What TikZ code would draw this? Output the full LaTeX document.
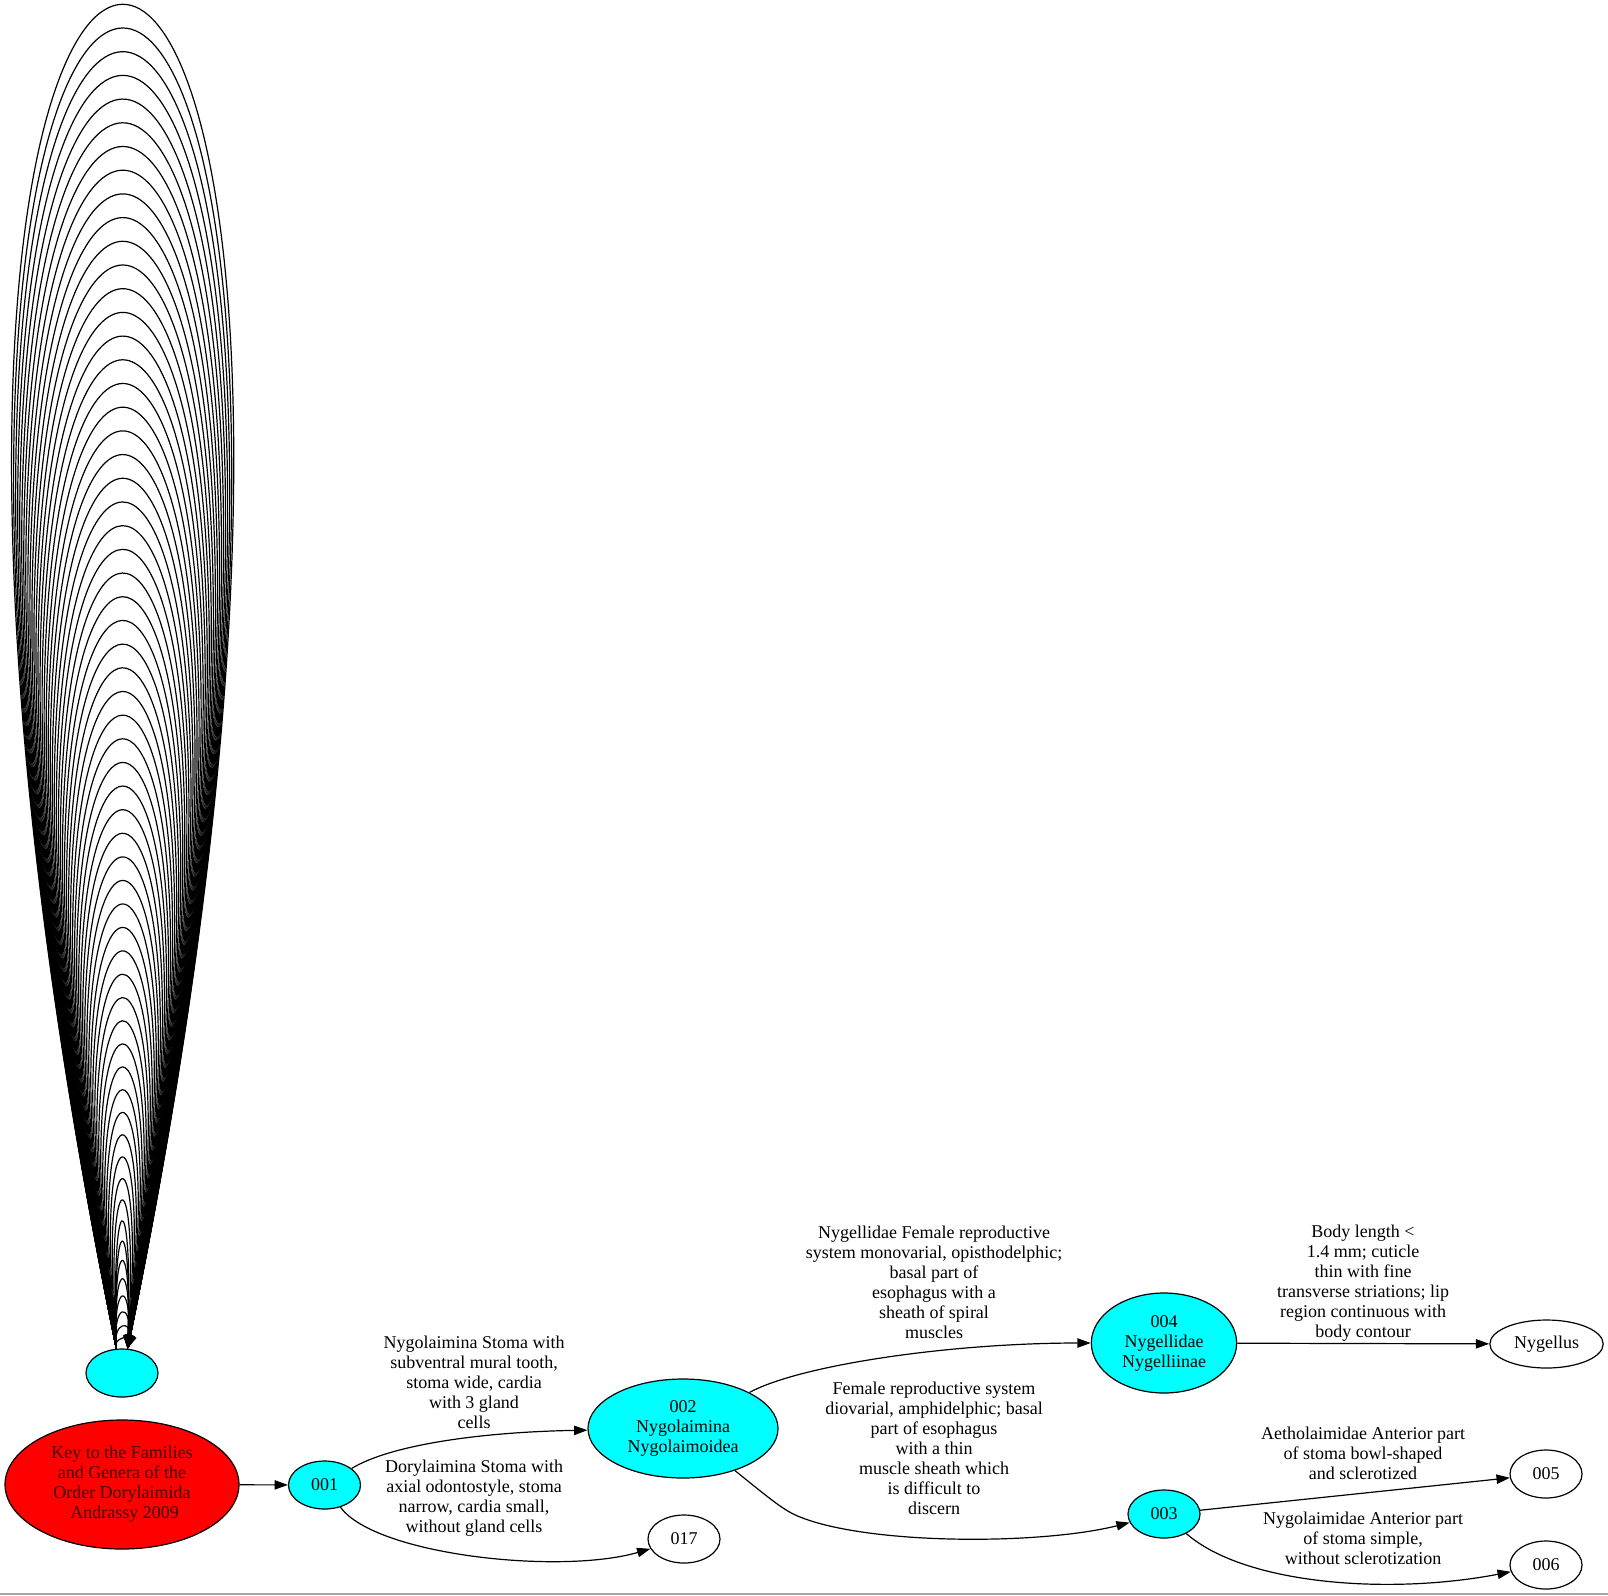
\documentclass[tikz,border=0pt]{standalone}
\usepackage{fontspec}
\setmainfont{Liberation Serif}
\usetikzlibrary{arrows.meta,shapes.geometric}
\definecolor{keyred}{RGB}{255,0,0}
\definecolor{keytext}{RGB}{60,0,0}
\definecolor{coupletcyan}{RGB}{0,255,255}
\begin{document}
\begin{tikzpicture}[x=0.75pt, y=-0.75pt, line width=0.9pt, line join=round, >={Triangle[length=10pt,width=7pt]},
    font=\fontsize{13.5}{15}\selectfont,
    every node/.style={inner sep=0pt, align=center},
    ell/.style={ellipse, draw, line width=0.9pt, minimum width=54pt, minimum height=36pt},
    couplet/.style={ell, fill=coupletcyan},
    leaf/.style={ell, fill=white}]
    \useasboundingbox (0,0) rectangle (1608,1595);
    % nodes
    \node[ell, fill=keyred, text=keytext, minimum width=175.5pt, minimum height=96.75pt] (key) at (122,1484.5) {Key to the Families\\and Genera of the\\Order Dorylaimida\\\hspace{4pt}Andrassy 2009};
    \node[couplet] (n000) at (122,1373) {};
    \node[couplet] (n001) at (324.5,1485) {001};
    \node[couplet, minimum width=142.5pt, minimum height=74.25pt] (n002) at (683,1428.5) {002\\Nygolaimina\\Nygolaimoidea};
    \node[leaf] (n017) at (684,1539) {017};
    \node[couplet, minimum width=109pt, minimum height=75pt] (n004) at (1164,1343) {004\\Nygellidae\\Nygelliinae};
    \node[couplet] (n003) at (1164,1514) {003};
    \node[leaf, minimum width=85pt] (nygellus) at (1546.5,1344) {Nygellus};
    \node[leaf] (n005) at (1546,1474) {005};
    \node[leaf] (n006) at (1546,1565) {006};
    % self-loops
    \foreach \i in {1,...,60}{
        \pgfmathsetmacro\looph{23.7*\i-79*(1-exp(-\i/5))}
        \pgfmathsetmacro\loopw{max(5.5,0.086*\looph-5)}
        \pgfmathsetmacro\loopa{(\loopw-2.64)/0.289}
        \pgfmathsetmacro\loopy{1349-\looph/0.75}
        \draw[->] (n000.103) .. controls (122-\loopa,\loopy) and (122+\loopa,\loopy) .. (n000.77);
    }
    % edges
    \draw[->] (key) -- (n001);
    \draw[->] (n001) .. controls (390,1445) and (480,1432) .. (n002);
    \draw[->] (n001) .. controls (375,1555) and (560,1575) .. (n017);
    \draw[->] (n002) .. controls (800,1365) and (950,1343) .. (n004);
    \draw[->] (n002) .. controls (775,1503) and (785,1511) .. (800,1517) .. controls (870,1545) and (1040,1545) .. (n003);
    \draw[->] (n004) -- (nygellus);
    \draw[->] (n003) -- (n005);
    \draw[->] (n003) .. controls (1245,1585) and (1390,1595) .. (n006);
    % labels
    \node (lab12) at (474,1382.7) {Nygolaimina Stoma with\\subventral mural tooth,\\stoma wide, cardia\\with 3 gland\\cells};
    \node (lab117) at (474,1498.3) {Dorylaimina Stoma with\\axial odontostyle, stoma\\narrow, cardia small,\\without gland cells};
    \node (lab24) at (934,1282.7) {Nygellidae Female reproductive\\system monovarial, opisthodelphic;\\basal part of\\esophagus with a\\sheath of spiral\\muscles};
    \node (lab23) at (934,1448.3) {Female reproductive system\\diovarial, amphidelphic; basal\\part of esophagus\\with a thin\\muscle sheath which\\is difficult to\\discern};
    \node (lab4n) at (1363,1283) {Body length <\\1.4 mm; cuticle\\thin with fine\\transverse striations; lip\\region continuous with\\body contour};
    \node (lab35) at (1363,1453) {Aetholaimidae Anterior part\\of stoma bowl-shaped\\and sclerotized};
    \node (lab36) at (1363,1538) {Nygolaimidae Anterior part\\of stoma simple,\\without sclerotization};
    \draw[gray!70, line width=1.1pt] (0,1594) -- (1608,1594);
\end{tikzpicture}
\end{document}
